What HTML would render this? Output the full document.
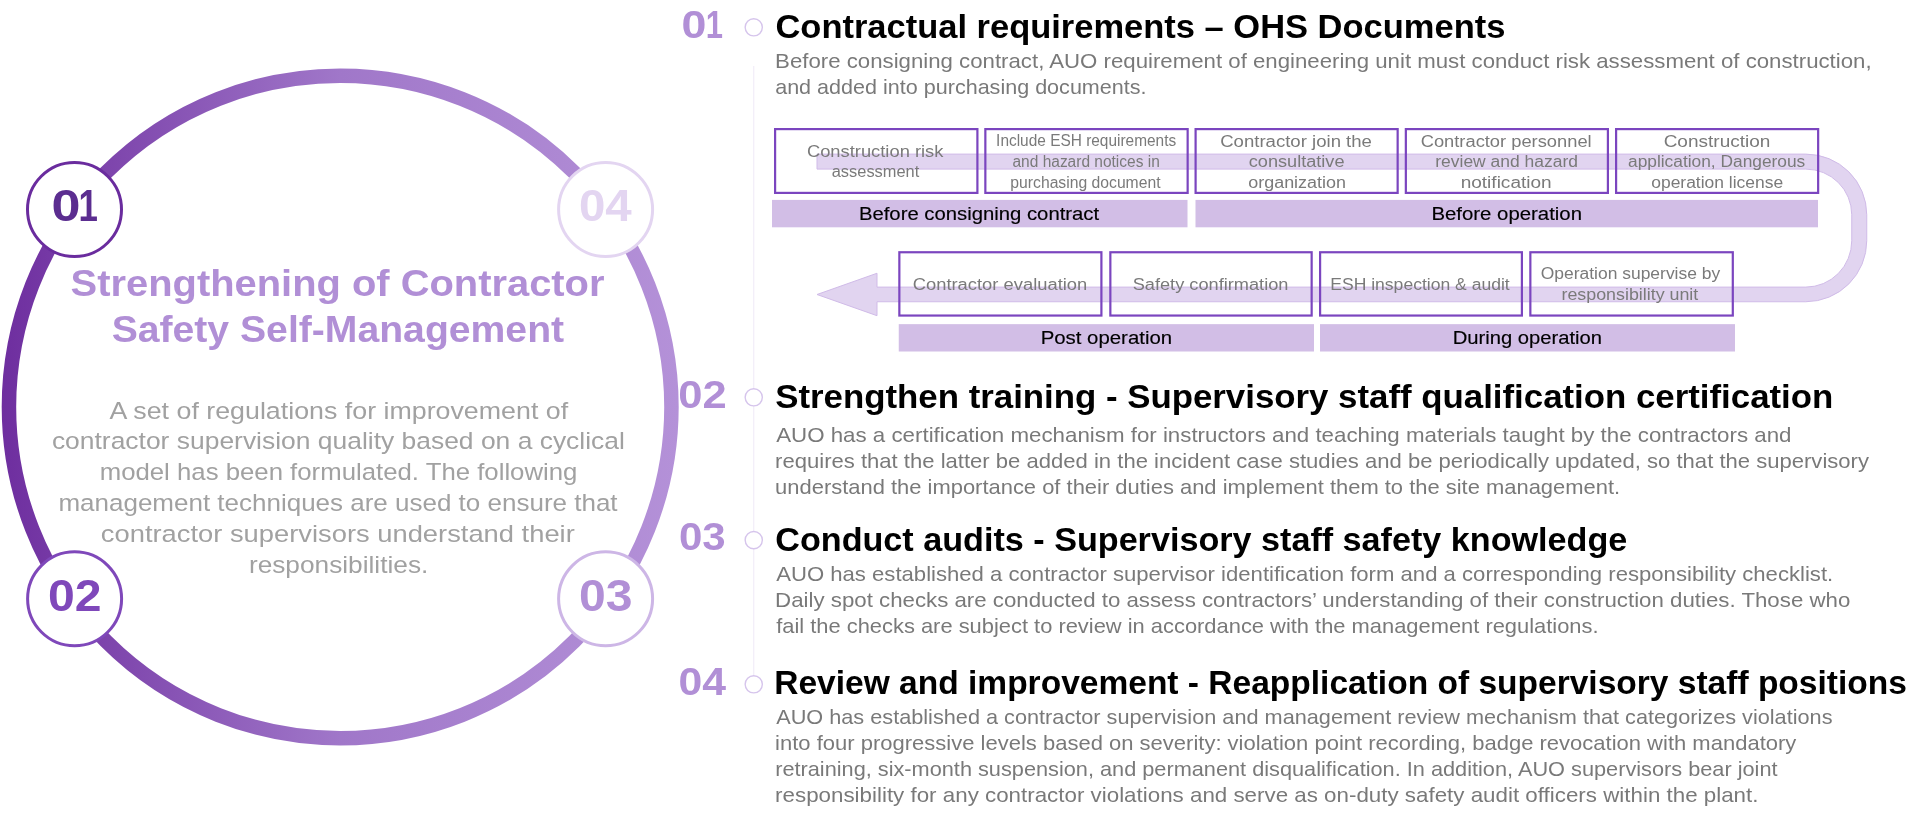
<!DOCTYPE html>
<html lang="en">
<head>
<meta charset="utf-8">
<title>Strengthening of Contractor Safety Self-Management</title>
<style>
html,body{margin:0;padding:0;background:#fff;}
body{width:1911px;height:814px;overflow:hidden;font-family:'Liberation Sans', Arial, Helvetica, sans-serif;}
svg{display:block;will-change:transform;}
text{font-family:'Liberation Sans', Arial, Helvetica, sans-serif;white-space:pre;}
</style>
</head>
<body>
<svg width="1911" height="814" viewBox="0 0 1911 814" font-family="'Liberation Sans', Arial, Helvetica, sans-serif">
<defs>
<linearGradient id="ringg" gradientUnits="userSpaceOnUse" x1="2" y1="0" x2="678" y2="0">
<stop offset="0" stop-color="#6E2E9F"/>
<stop offset="0.5" stop-color="#A077C9"/>
<stop offset="1" stop-color="#B491D8"/>
</linearGradient>
</defs>
<rect width="1911" height="814" fill="#fff"/>
<!-- cycle ring -->
<g id="cycle">
<circle cx="340.2" cy="406.9" r="331.25" fill="none" stroke="url(#ringg)" stroke-width="14.5"/>
<g fill="#fff" stroke-width="3"><circle cx="74.5" cy="209.5" r="47" stroke="#6A2C9E"/><circle cx="605.6" cy="209.5" r="47" stroke="#E3D5F1"/><circle cx="74.6" cy="598.8" r="47" stroke="#7F48BA"/><circle cx="605.6" cy="598.8" r="47" stroke="#CDB6E6"/></g>
<g id="cycle-numbers">
<text x="51.40" y="220.70" font-size="43.6" font-weight="700" fill="#5B2D90" textLength="28.99" lengthAdjust="spacingAndGlyphs">0</text>
<text x="78.60" y="220.70" font-size="43.6" font-weight="700" fill="#5B2D90" textLength="19.40" lengthAdjust="spacingAndGlyphs">1</text>
<text x="579.01" y="220.70" font-size="43.6" font-weight="700" fill="#E3D5F1" textLength="52.74" lengthAdjust="spacingAndGlyphs">04</text>
<text x="47.90" y="610.50" font-size="43.6" font-weight="700" fill="#7F48BA" textLength="53.56" lengthAdjust="spacingAndGlyphs">02</text>
<text x="579.00" y="610.50" font-size="43.6" font-weight="700" fill="#B18FD6" textLength="53.46" lengthAdjust="spacingAndGlyphs">03</text>
</g>
<g id="cycle-title">
<text x="70.64" y="295.70" font-size="37.79" font-weight="700" fill="#B18FD6" textLength="533.87" lengthAdjust="spacingAndGlyphs">Strengthening of Contractor</text>
<text x="111.66" y="342.20" font-size="37.79" font-weight="700" fill="#B18FD6" textLength="452.43" lengthAdjust="spacingAndGlyphs">Safety Self-Management</text>
</g>
<g id="cycle-text">
<text x="109.50" y="418.55" font-size="24.27" font-weight="400" fill="#A1A1A1" textLength="458.61" lengthAdjust="spacingAndGlyphs">A set of regulations for improvement of</text>
<text x="51.91" y="449.05" font-size="24.27" font-weight="400" fill="#A1A1A1" textLength="572.96" lengthAdjust="spacingAndGlyphs">contractor supervision quality based on a cyclical</text>
<text x="99.69" y="480.30" font-size="24.27" font-weight="400" fill="#A1A1A1" textLength="477.72" lengthAdjust="spacingAndGlyphs">model has been formulated. The following</text>
<text x="58.43" y="511.05" font-size="24.27" font-weight="400" fill="#A1A1A1" textLength="559.14" lengthAdjust="spacingAndGlyphs">management techniques are used to ensure that</text>
<text x="100.87" y="542.05" font-size="24.27" font-weight="400" fill="#A1A1A1" textLength="473.92" lengthAdjust="spacingAndGlyphs">contractor supervisors understand their</text>
<text x="248.92" y="572.80" font-size="24.27" font-weight="400" fill="#A1A1A1" textLength="179.38" lengthAdjust="spacingAndGlyphs">responsibilities.</text>
</g>
</g>
<!-- timeline -->
<g id="timeline">
<line x1="753.75" y1="66" x2="753.75" y2="675" stroke="#F0EBF8" stroke-width="1.1"/>
<g fill="#fff" stroke="#D6C5EC" stroke-width="1.4"><circle cx="753.75" cy="27.3" r="8.6"/><circle cx="753.75" cy="397.3" r="8.6"/><circle cx="753.75" cy="540.1" r="8.6"/><circle cx="753.75" cy="684.3" r="8.6"/></g>
<g id="labels">
<text x="681.56" y="38.25" font-size="39.24" font-weight="700" fill="#B18FD6" textLength="24.88" lengthAdjust="spacingAndGlyphs">0</text>
<text x="705.72" y="38.25" font-size="39.24" font-weight="700" fill="#B18FD6" textLength="17.23" lengthAdjust="spacingAndGlyphs">1</text>
<text x="678.39" y="408.00" font-size="39.24" font-weight="700" fill="#B18FD6" textLength="48.43" lengthAdjust="spacingAndGlyphs">02</text>
<text x="678.93" y="549.50" font-size="39.24" font-weight="700" fill="#B18FD6" textLength="46.76" lengthAdjust="spacingAndGlyphs">03</text>
<text x="678.41" y="694.50" font-size="39.24" font-weight="700" fill="#B18FD6" textLength="47.50" lengthAdjust="spacingAndGlyphs">04</text>
</g>
<g id="headings">
<text x="775.45" y="37.60" font-size="32.7" font-weight="700" fill="#000" textLength="729.91" lengthAdjust="spacingAndGlyphs">Contractual requirements – OHS Documents</text>
<text x="775.23" y="407.60" font-size="32.7" font-weight="700" fill="#000" textLength="1058.10" lengthAdjust="spacingAndGlyphs">Strengthen training - Supervisory staff qualification certification</text>
<text x="775.26" y="550.70" font-size="32.7" font-weight="700" fill="#000" textLength="852.05" lengthAdjust="spacingAndGlyphs">Conduct audits - Supervisory staff safety knowledge</text>
<text x="774.25" y="694.00" font-size="32.7" font-weight="700" fill="#000" textLength="1132.63" lengthAdjust="spacingAndGlyphs">Review and improvement - Reapplication of supervisory staff positions</text>
</g>
<g id="descriptions">
<text x="775.12" y="67.55" font-size="20.64" font-weight="400" fill="#797979" textLength="1096.49" lengthAdjust="spacingAndGlyphs">Before consigning contract, AUO requirement of engineering unit must conduct risk assessment of construction,</text>
<text x="775.16" y="93.55" font-size="20.64" font-weight="400" fill="#797979" textLength="371.38" lengthAdjust="spacingAndGlyphs">and added into purchasing documents.</text>
<text x="776.20" y="441.80" font-size="20.64" font-weight="400" fill="#797979" textLength="1015.28" lengthAdjust="spacingAndGlyphs">AUO has a certification mechanism for instructors and teaching materials taught by the contractors and</text>
<text x="775.13" y="467.55" font-size="20.64" font-weight="400" fill="#797979" textLength="1093.84" lengthAdjust="spacingAndGlyphs">requires that the latter be added in the incident case studies and be periodically updated, so that the supervisory</text>
<text x="775.14" y="493.55" font-size="20.64" font-weight="400" fill="#797979" textLength="844.99" lengthAdjust="spacingAndGlyphs">understand the importance of their duties and implement them to the site management.</text>
<text x="776.20" y="581.30" font-size="20.64" font-weight="400" fill="#797979" textLength="1057.02" lengthAdjust="spacingAndGlyphs">AUO has established a contractor supervisor identification form and a corresponding responsibility checklist.</text>
<text x="775.12" y="607.30" font-size="20.64" font-weight="400" fill="#797979" textLength="1075.17" lengthAdjust="spacingAndGlyphs">Daily spot checks are conducted to assess contractors’ understanding of their construction duties. Those who</text>
<text x="776.20" y="633.05" font-size="20.64" font-weight="400" fill="#797979" textLength="822.36" lengthAdjust="spacingAndGlyphs">fail the checks are subject to review in accordance with the management regulations.</text>
<text x="776.20" y="724.30" font-size="20.64" font-weight="400" fill="#797979" textLength="1056.33" lengthAdjust="spacingAndGlyphs">AUO has established a contractor supervision and management review mechanism that categorizes violations</text>
<text x="775.13" y="750.05" font-size="20.64" font-weight="400" fill="#797979" textLength="1021.20" lengthAdjust="spacingAndGlyphs">into four progressive levels based on severity: violation point recording, badge revocation with mandatory</text>
<text x="775.15" y="776.05" font-size="20.64" font-weight="400" fill="#797979" textLength="1002.39" lengthAdjust="spacingAndGlyphs">retraining, six-month suspension, and permanent disqualification. In addition, AUO supervisors bear joint</text>
<text x="775.12" y="802.05" font-size="20.64" font-weight="400" fill="#797979" textLength="983.36" lengthAdjust="spacingAndGlyphs">responsibility for any contractor violations and serve as on-duty safety audit officers within the plant.</text>
</g>
</g>
<!-- flow diagram -->
<g id="flow">
<path d="M817 154.1 H1805.75 A61 60.65 0 0 1 1866.75 214.75 V240.75 A61 61 0 0 1 1805.75 301.75 H877 V315.7 L817 294.5 L877 273.25 V287.1 H1805.75 A46 46.35 0 0 0 1851.75 240.75 V214.75 A46 45.65 0 0 0 1805.75 169.1 H817 Z" fill="#E1D4F0" stroke="#D0BBE8" stroke-width="1"/>
<g fill="#D2BEE6"><rect x="772" y="199.9" width="415.5" height="27.400000000000006"/><rect x="1195.5" y="199.9" width="622.5" height="27.400000000000006"/><rect x="898.75" y="324.15" width="415.25" height="27.350000000000023"/><rect x="1320" y="324.15" width="415" height="27.350000000000023"/></g>
<g fill="none" stroke="#7B45BF" stroke-width="2.2"><rect x="775.10" y="129.10" width="202.30" height="63.80"/><rect x="985.35" y="129.10" width="202.30" height="63.80"/><rect x="1195.60" y="129.10" width="202.05" height="63.80"/><rect x="1405.85" y="129.10" width="202.05" height="63.80"/><rect x="1616.10" y="129.10" width="202.05" height="63.80"/><rect x="899.35" y="252.25" width="202.05" height="63.30"/><rect x="1110.35" y="252.25" width="201.30" height="63.30"/><rect x="1320.10" y="252.25" width="201.80" height="63.30"/><rect x="1530.35" y="252.25" width="202.45" height="63.30"/></g>
<g id="box-text">
<text x="806.94" y="157.40" font-size="17.3" font-weight="400" fill="#7A7A7A" textLength="136.50" lengthAdjust="spacingAndGlyphs">Construction risk</text>
<text x="831.75" y="177.40" font-size="17.3" font-weight="400" fill="#7A7A7A" textLength="87.51" lengthAdjust="spacingAndGlyphs">assessment</text>
<text x="996.11" y="146.40" font-size="17.3" font-weight="400" fill="#7A7A7A" textLength="180.03" lengthAdjust="spacingAndGlyphs">Include ESH requirements</text>
<text x="1012.50" y="167.15" font-size="17.3" font-weight="400" fill="#7A7A7A" textLength="147.27" lengthAdjust="spacingAndGlyphs">and hazard notices in</text>
<text x="1010.34" y="187.90" font-size="17.3" font-weight="400" fill="#7A7A7A" textLength="150.23" lengthAdjust="spacingAndGlyphs">purchasing document</text>
<text x="1220.17" y="146.65" font-size="17.3" font-weight="400" fill="#7A7A7A" textLength="151.81" lengthAdjust="spacingAndGlyphs">Contractor join the</text>
<text x="1248.75" y="167.40" font-size="17.3" font-weight="400" fill="#7A7A7A" textLength="95.78" lengthAdjust="spacingAndGlyphs">consultative</text>
<text x="1248.25" y="187.90" font-size="17.3" font-weight="400" fill="#7A7A7A" textLength="97.70" lengthAdjust="spacingAndGlyphs">organization</text>
<text x="1420.69" y="146.65" font-size="17.3" font-weight="400" fill="#7A7A7A" textLength="170.97" lengthAdjust="spacingAndGlyphs">Contractor personnel</text>
<text x="1435.24" y="167.40" font-size="17.3" font-weight="400" fill="#7A7A7A" textLength="142.74" lengthAdjust="spacingAndGlyphs">review and hazard</text>
<text x="1460.65" y="187.90" font-size="17.3" font-weight="400" fill="#7A7A7A" textLength="91.04" lengthAdjust="spacingAndGlyphs">notification</text>
<text x="1663.65" y="146.65" font-size="17.3" font-weight="400" fill="#7A7A7A" textLength="106.72" lengthAdjust="spacingAndGlyphs">Construction</text>
<text x="1628.00" y="167.40" font-size="17.3" font-weight="400" fill="#7A7A7A" textLength="177.28" lengthAdjust="spacingAndGlyphs">application, Dangerous</text>
<text x="1651.25" y="187.90" font-size="17.3" font-weight="400" fill="#7A7A7A" textLength="131.91" lengthAdjust="spacingAndGlyphs">operation license</text>
<text x="912.69" y="289.65" font-size="17.3" font-weight="400" fill="#7A7A7A" textLength="174.60" lengthAdjust="spacingAndGlyphs">Contractor evaluation</text>
<text x="1132.70" y="289.65" font-size="17.3" font-weight="400" fill="#7A7A7A" textLength="155.77" lengthAdjust="spacingAndGlyphs">Safety confirmation</text>
<text x="1330.23" y="289.65" font-size="17.3" font-weight="400" fill="#7A7A7A" textLength="179.53" lengthAdjust="spacingAndGlyphs">ESH inspection &amp; audit</text>
<text x="1540.74" y="279.15" font-size="17.3" font-weight="400" fill="#7A7A7A" textLength="179.48" lengthAdjust="spacingAndGlyphs">Operation supervise by</text>
<text x="1561.47" y="299.65" font-size="17.3" font-weight="400" fill="#7A7A7A" textLength="136.83" lengthAdjust="spacingAndGlyphs">responsibility unit</text>
</g>
<g id="bar-text" stroke="#000" stroke-width="0.15">
<text x="858.93" y="220.10" font-size="18.9" font-weight="400" fill="#000" textLength="240.22" lengthAdjust="spacingAndGlyphs">Before consigning contract</text>
<text x="1431.42" y="220.10" font-size="18.9" font-weight="400" fill="#000" textLength="150.57" lengthAdjust="spacingAndGlyphs">Before operation</text>
<text x="1040.67" y="343.70" font-size="18.9" font-weight="400" fill="#000" textLength="131.47" lengthAdjust="spacingAndGlyphs">Post operation</text>
<text x="1452.68" y="343.70" font-size="18.9" font-weight="400" fill="#000" textLength="149.29" lengthAdjust="spacingAndGlyphs">During operation</text>
</g>
</g>
</svg>
</body>
</html>
